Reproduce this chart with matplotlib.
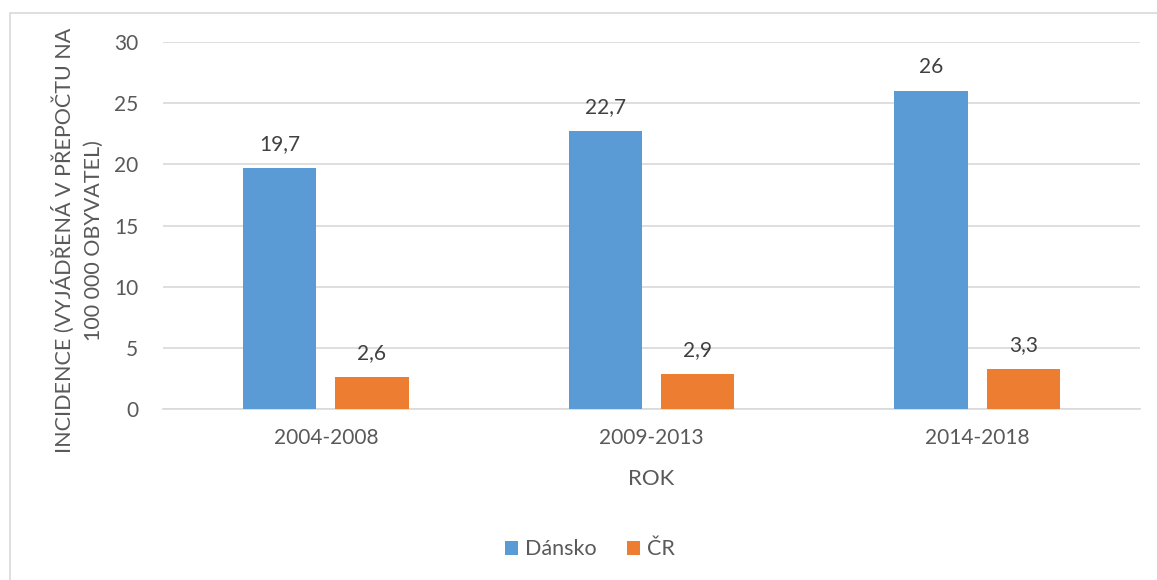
import matplotlib
matplotlib.use("Agg")
import matplotlib.pyplot as plt
from matplotlib.patches import Rectangle
import numpy as np

categories = ["2004-2008", "2009-2013", "2014-2018"]
series_names = ["Dánsko", "ČR"]
dansko = [19.7, 22.7, 26]
cr = [2.6, 2.9, 3.3]
dansko_labels = ["19,7", "22,7", "26"]
cr_labels = ["2,6", "2,9", "3,3"]
yticks = [0, 5, 10, 15, 20, 25, 30]

plt.rcParams['font.family'] = ['Lato', 'DejaVu Sans']
txt = '#595959'

fig = plt.figure(figsize=(11.57, 5.8), dpi=100)
ax = fig.add_axes([0.1409, 0.2948, 0.8444, 0.6328])

x = np.arange(len(categories))
w = 0.225
off = 0.1415
b1 = ax.bar(x - off, dansko, w, color='#5b9bd5', label=series_names[0], zorder=3)
b2 = ax.bar(x + off, cr, w, color='#ed7d31', label=series_names[1], zorder=3)

for rect, lab in zip(b1, dansko_labels):
    ax.annotate(lab, (rect.get_x() + rect.get_width() / 2, rect.get_height()),
                xytext=(0, 10), textcoords='offset points', ha='center', va='bottom',
                fontsize=15, color='#404040')
for rect, lab in zip(b2, cr_labels):
    ax.annotate(lab, (rect.get_x() + rect.get_width() / 2, rect.get_height()),
                xytext=(0, 10), textcoords='offset points', ha='center', va='bottom',
                fontsize=15, color='#404040')

ax.set_xlim(-0.5, 2.5)
ax.set_ylim(0, 30)
ax.set_yticks(yticks)
ax.set_yticklabels([str(v) for v in yticks])
ax.set_xticks(x)
ax.set_xticklabels(categories)
ax.tick_params(axis='both', length=0, labelsize=15, colors=txt)
ax.tick_params(axis='y', pad=18)
ax.tick_params(axis='x', pad=14)
ax.grid(axis='y', color='#d9d9d9', linewidth=1.2, zorder=0)
for s in ['top', 'right', 'left']:
    ax.spines[s].set_visible(False)
ax.spines['bottom'].set_color('#d9d9d9')
ax.spines['bottom'].set_linewidth(1.2)

ax.set_xlabel("ROK", fontsize=16, color=txt, labelpad=15)
fig.text(0.067, 0.585, "INCIDENCE (VYJÁDŘENÁ V PŘEPOČTU NA\n100 000 OBYVATEL)",
         rotation=90, ha='center', va='center', fontsize=15.5, color=txt,
         multialignment='center', linespacing=1.55)

fig.legend(handles=[b1, b2], labels=series_names, loc='center', bbox_to_anchor=(0.51, 0.053),
           ncol=2, frameon=False, fontsize=15.5, labelcolor=txt, handlelength=0.6,
           handleheight=0.6, handletextpad=0.35, columnspacing=1.4)

fig.patches.append(Rectangle((10/1157, -0.1), 1.2, 1.1 - 13/580, transform=fig.transFigure,
                             fill=False, edgecolor='#d9d9d9', linewidth=1.2))

fig.savefig("out.png", dpi=100)
